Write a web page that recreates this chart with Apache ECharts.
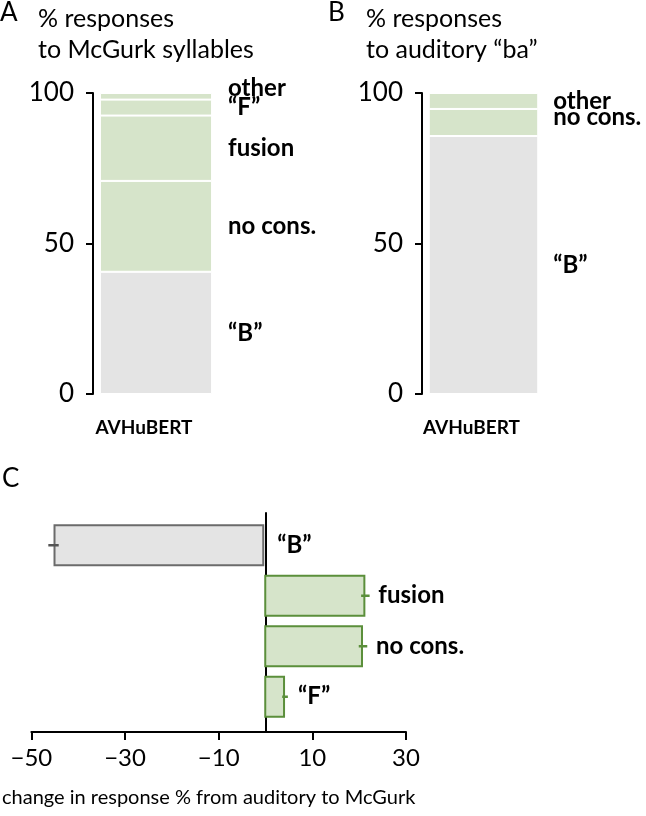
<!DOCTYPE html>
<html>
<head>
<meta charset="utf-8">
<script src="https://cdn.jsdelivr.net/npm/echarts@6/dist/echarts.min.js"></script>
<style>
html,body{margin:0;padding:0;background:#fff;}
#main{width:646px;height:816px;}
</style>
</head>
<body>
<div id="main"></div>
<script>
// A: % responses to McGurk syllables (stacked bottom -> top)
var mcgurkNames = ['\u201cB\u201d', 'no cons.', 'fusion', '\u201cF\u201d', 'other'];
var mcgurkValues = [40.6, 30.2, 21.7, 5.3, 2.2];
// B: % responses to auditory "ba"
var audNames = ['\u201cB\u201d', 'no cons.', 'other'];
var audValues = [85.7, 9.0, 5.3];
// C: change in response % from auditory to McGurk
var changeNames = ['\u201cB\u201d', 'fusion', 'no cons.', '\u201cF\u201d'];
var changeValues = [-44.6, 21.4, 20.9, 4.4];
var changeErrors = [1.1, 0.9, 0.9, 0.6];
var modelNames = ['AVHuBERT'];

var FONT = 'Lato';
var GRAY = '#e4e4e4', GREEN = '#d6e4ca';
var GRAY_EDGE = '#6b6b6b', GREEN_EDGE = '#5b8f3b';

// 堆叠柱 (A / B)
function stackSeries(names, values, axisIdx, dist, offsets) {
  return names.map(function (n, i) {
    return {
      type: 'bar',
      name: n,
      stack: 'st' + axisIdx,
      xAxisIndex: axisIdx,
      yAxisIndex: axisIdx,
      barWidth: '89%',
      animation: false,
      data: [values[i]],
      itemStyle: { color: n === '\u201cB\u201d' ? GRAY : GREEN, borderColor: '#fff', borderWidth: 1 },
      label: {
        show: true,
        position: 'right',
        distance: dist,
        offset: offsets[n] || [0, 0],
        formatter: n,
        color: '#000',
        fontFamily: FONT,
        fontWeight: 'bold',
        fontSize: 24
      }
    };
  });
}

function pctAxis(idx) {
  return {
    type: 'value', gridIndex: idx, min: 0, max: 100, interval: 50,
    axisLine: { show: true, lineStyle: { color: '#000', width: 2 } },
    axisTick: { show: true, length: 7, lineStyle: { color: '#000', width: 2 } },
    axisLabel: { fontFamily: FONT, fontSize: 26, color: '#000', margin: 19 },
    splitLine: { show: false }
  };
}

function modelAxis(idx) {
  return {
    type: 'category', gridIndex: idx, data: modelNames,
    axisLine: { show: false }, axisTick: { show: false },
    axisLabel: { fontFamily: FONT, fontWeight: 'bold', fontSize: 19, color: '#000', margin: 24, padding: [0, 24, 0, 0] }
  };
}

var titleStyle = { fontFamily: FONT, fontWeight: 'normal', fontSize: 25, color: '#000', lineHeight: 31 };
var letterStyle = { fontFamily: FONT, fontWeight: 'normal', fontSize: 26, color: '#000' };

var myChart = echarts.init(document.getElementById('main'), null, { renderer: 'canvas' });
var option = {
  backgroundColor: '#fff',
  animation: false,
  title: [
    { text: 'A', left: 0, top: 0, padding: 0, textStyle: letterStyle },
    { text: '% responses\nto McGurk syllables', left: 38, top: 3, padding: 0, textStyle: titleStyle },
    { text: 'B', left: 328, top: 0, padding: 0, textStyle: letterStyle },
    { text: '% responses\nto auditory \u201cba\u201d', left: 366, top: 3, padding: 0, textStyle: titleStyle },
    { text: 'C', left: 2, top: 466, padding: 0, textStyle: letterStyle }
  ],
  grid: [
    { left: 93, top: 93, width: 126, height: 301 },
    { left: 422, top: 93, width: 123, height: 301 },
    { left: 28, top: 520, width: 378, height: 202 },
    { left: 28, top: 513, width: 378, height: 219 }
  ],
  xAxis: [
    modelAxis(0),
    modelAxis(1),
    { type: 'value', gridIndex: 2, min: -50, max: 30, show: false },
    {
      type: 'value', gridIndex: 3, min: -50, max: 30, interval: 20,
      axisLine: { show: true, onZero: false, lineStyle: { color: '#000', width: 2 } },
      axisTick: { show: true, length: 8, lineStyle: { color: '#000', width: 2 } },
      axisLabel: {
        fontFamily: FONT, fontSize: 24, color: '#000', margin: 14,
        formatter: function (v) { return v < 0 ? '\u2212' + Math.abs(v) : String(v); }
      },
      splitLine: { show: false },
      name: 'change in response % from auditory to McGurk',
      nameLocation: 'middle',
      nameGap: 56,
      nameTextStyle: { fontFamily: FONT, fontSize: 20, color: '#000', padding: [0, 20, 0, 0] }
    }
  ],
  yAxis: [
    pctAxis(0),
    pctAxis(1),
    { type: 'category', gridIndex: 2, inverse: true, data: changeNames, show: false },
    {
      type: 'value', gridIndex: 3, min: 0, max: 1,
      axisLine: { show: true, onZero: true, lineStyle: { color: '#000', width: 2 } },
      axisTick: { show: false }, axisLabel: { show: false }, splitLine: { show: false }
    }
  ],
  series: []
    .concat(stackSeries(mcgurkNames, mcgurkValues, 0, 16, { 'other': [0, -8] }))
    .concat(stackSeries(audNames, audValues, 1, 15, { 'no cons.': [0, -5] }))
    .concat([
      {
        type: 'bar',
        xAxisIndex: 2,
        yAxisIndex: 2,
        barWidth: 42,
        data: changeValues.map(function (v) {
          return {
            value: v,
            itemStyle: v < 0
              ? { color: GRAY, borderColor: GRAY_EDGE, borderWidth: 2 }
              : { color: GREEN, borderColor: GREEN_EDGE, borderWidth: 2 }
          };
        }),
        label: {
          show: true,
          position: 'right',
          distance: 13,
          formatter: function (p) { return changeNames[p.dataIndex]; },
          color: '#000',
          fontFamily: FONT,
          fontWeight: 'bold',
          fontSize: 24
        }
      },
      {
        // 误差线
        type: 'custom',
        xAxisIndex: 2,
        yAxisIndex: 2,
        z: 5,
        encode: { x: 0, y: 1 },
        data: changeValues.map(function (v, i) { return [v, i, changeErrors[i]]; }),
        renderItem: function (params, api) {
          var v = api.value(0), i = api.value(1), e = api.value(2);
          var p1 = api.coord([v - e, i]);
          var p2 = api.coord([v + e, i]);
          return {
            type: 'line',
            shape: { x1: p1[0], y1: p1[1], x2: p2[0], y2: p2[1] },
            style: { stroke: v < 0 ? '#555' : GREEN_EDGE, lineWidth: 2.5 }
          };
        }
      }
    ])
};
myChart.setOption(option);
</script>
</body>
</html>
